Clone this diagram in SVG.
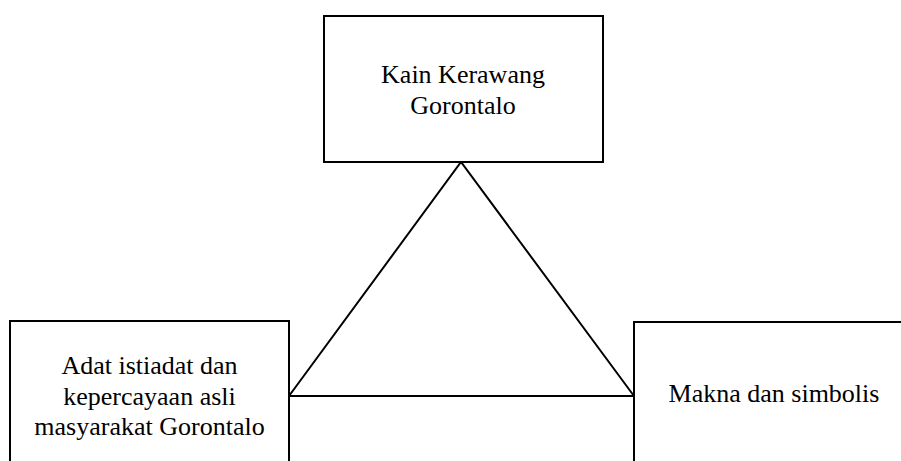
<svg xmlns="http://www.w3.org/2000/svg" width="901" height="461" viewBox="0 0 901 461">
  <style>
    .box { fill: #ffffff; stroke: #000000; stroke-width: 2; }
    .lbl { font-family: "Liberation Serif", "Times New Roman", serif; font-size: 26px; fill: #000000; text-anchor: middle; }
    .link { fill: none; stroke: #000000; stroke-width: 2; stroke-linejoin: miter; }
  </style>
  <rect width="901" height="461" fill="#ffffff"/>

  <!-- connectors: triangle joining the three nodes -->
  <g id="connectors">
    <polyline class="link" points="289,396 461,162 634,396"/>
    <line class="link" x1="289" y1="396" x2="634" y2="396"/>
  </g>

  <g id="node-kain">
    <rect class="box" x="324" y="16" width="279" height="146"/>
    <text class="lbl" x="463" y="83">Kain Kerawang</text>
    <text class="lbl" x="463" y="114">Gorontalo</text>
  </g>

  <g id="node-adat">
    <rect class="box" x="10" y="321" width="279" height="170"/>
    <text class="lbl" x="149.5" y="374">Adat istiadat dan</text>
    <text class="lbl" x="149.5" y="404.5">kepercayaan asli</text>
    <text class="lbl" x="149.5" y="435">masyarakat Gorontalo</text>
  </g>

  <g id="node-makna">
    <rect class="box" x="634" y="322" width="290" height="170"/>
    <text class="lbl" x="774" y="402">Makna dan simbolis</text>
  </g>
</svg>
